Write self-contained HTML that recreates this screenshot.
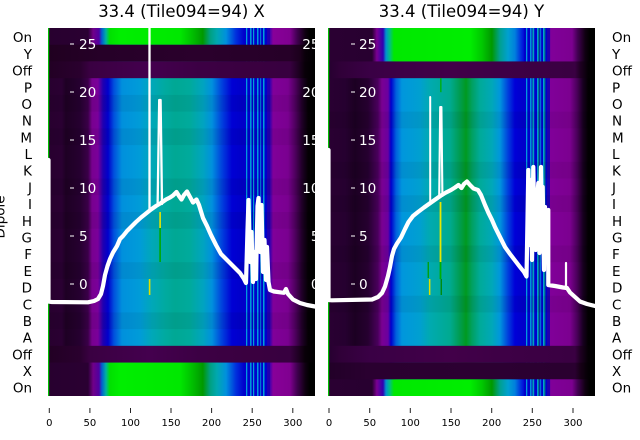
<!DOCTYPE html>
<html><head><meta charset="utf-8"><style>
html,body{margin:0;padding:0;background:#fff;}
svg{display:block;}
text{font-family:"DejaVu Sans","Liberation Sans",sans-serif;}
</style></head><body>
<svg width="640" height="440" viewBox="0 0 640 440" xmlns="http://www.w3.org/2000/svg">
<defs>
<linearGradient id="LA" gradientUnits="userSpaceOnUse" x1="48" y1="0" x2="315" y2="0">
<stop offset="0" stop-color="#28002f"/><stop offset=".052" stop-color="#2a0032"/><stop offset=".067" stop-color="#1e0024"/>
<stop offset=".12" stop-color="#260030"/><stop offset=".15" stop-color="#3a0048"/><stop offset=".165" stop-color="#780090"/>
<stop offset=".187" stop-color="#7a009a"/><stop offset=".206" stop-color="#2000b0"/><stop offset=".225" stop-color="#0000cc"/>
<stop offset=".247" stop-color="#0050dd"/><stop offset=".277" stop-color="#0090dd"/><stop offset=".345" stop-color="#009cd8"/>
<stop offset=".39" stop-color="#00a8b8"/><stop offset=".438" stop-color="#00aaa0"/><stop offset=".476" stop-color="#00a894"/>
<stop offset=".532" stop-color="#00aa9c"/><stop offset=".581" stop-color="#00a4c0"/><stop offset=".614" stop-color="#0090dd"/>
<stop offset=".652" stop-color="#0040dd"/><stop offset=".689" stop-color="#0000d4"/><stop offset=".734" stop-color="#0000c8"/>
<stop offset=".831" stop-color="#3000b0"/><stop offset=".843" stop-color="#800099"/><stop offset=".899" stop-color="#7a0090"/>
<stop offset=".925" stop-color="#500060"/><stop offset=".951" stop-color="#200028"/><stop offset=".974" stop-color="#050005"/>
<stop offset="1" stop-color="#000"/>
</linearGradient>
<linearGradient id="LO" gradientUnits="userSpaceOnUse" x1="48" y1="0" x2="315" y2="0">
<stop offset="0" stop-color="#28002f"/><stop offset=".15" stop-color="#2a0032"/><stop offset=".169" stop-color="#700088"/>
<stop offset=".191" stop-color="#5000a0"/><stop offset=".202" stop-color="#0060d0"/><stop offset=".217" stop-color="#00b0a0"/>
<stop offset=".232" stop-color="#00e000"/><stop offset=".27" stop-color="#00ee00"/><stop offset=".494" stop-color="#00e800"/>
<stop offset=".539" stop-color="#00c000"/><stop offset=".58" stop-color="#009800"/><stop offset=".607" stop-color="#00a080"/>
<stop offset=".633" stop-color="#00a8b0"/><stop offset=".667" stop-color="#0090dd"/><stop offset=".704" stop-color="#0030dd"/>
<stop offset=".734" stop-color="#0000cc"/><stop offset=".831" stop-color="#4000b0"/><stop offset=".843" stop-color="#880099"/>
<stop offset=".906" stop-color="#800090"/><stop offset=".933" stop-color="#400050"/><stop offset=".963" stop-color="#100012"/>
<stop offset=".981" stop-color="#000"/><stop offset="1" stop-color="#000"/>
</linearGradient>
<linearGradient id="LD" gradientUnits="userSpaceOnUse" x1="48" y1="0" x2="315" y2="0">
<stop offset="0" stop-color="#200020"/><stop offset=".2" stop-color="#260028"/><stop offset=".57" stop-color="#2a002c"/>
<stop offset=".906" stop-color="#260028"/><stop offset=".943" stop-color="#1c001c"/><stop offset=".963" stop-color="#0a000a"/>
<stop offset="1" stop-color="#000"/>
</linearGradient>
<linearGradient id="LF" gradientUnits="userSpaceOnUse" x1="48" y1="0" x2="315" y2="0">
<stop offset="0" stop-color="#220024"/><stop offset=".12" stop-color="#2a002e"/><stop offset=".157" stop-color="#3a0042"/>
<stop offset=".38" stop-color="#44004e"/><stop offset=".57" stop-color="#3c0044"/><stop offset=".757" stop-color="#3a0040"/>
<stop offset=".906" stop-color="#380040"/><stop offset=".936" stop-color="#200024"/><stop offset=".963" stop-color="#080008"/>
<stop offset="1" stop-color="#000"/>
</linearGradient>
<linearGradient id="RA" gradientUnits="userSpaceOnUse" x1="328" y1="0" x2="595" y2="0">
<stop offset="0" stop-color="#2a0032"/><stop offset=".064" stop-color="#260030"/><stop offset=".101" stop-color="#1c0022"/>
<stop offset=".15" stop-color="#260030"/><stop offset=".187" stop-color="#4a005c"/><stop offset=".202" stop-color="#7a0092"/>
<stop offset=".225" stop-color="#6a00a0"/><stop offset=".236" stop-color="#0000cc"/><stop offset=".255" stop-color="#0060dd"/>
<stop offset=".277" stop-color="#0096dd"/><stop offset=".345" stop-color="#00a0d0"/><stop offset=".382" stop-color="#00aab0"/>
<stop offset=".457" stop-color="#00aa90"/><stop offset=".494" stop-color="#009c50"/><stop offset=".517" stop-color="#009a20"/>
<stop offset=".539" stop-color="#00a060"/><stop offset=".569" stop-color="#00aa98"/><stop offset=".614" stop-color="#00a8b8"/>
<stop offset=".644" stop-color="#0096dd"/><stop offset=".674" stop-color="#0040dd"/><stop offset=".7" stop-color="#0000d8"/>
<stop offset=".738" stop-color="#0000c8"/><stop offset=".824" stop-color="#3000b0"/><stop offset=".831" stop-color="#800099"/>
<stop offset=".906" stop-color="#7c0090"/><stop offset=".933" stop-color="#4a005a"/><stop offset=".955" stop-color="#180020"/>
<stop offset=".974" stop-color="#030003"/><stop offset="1" stop-color="#000"/>
</linearGradient>
<linearGradient id="RO" gradientUnits="userSpaceOnUse" x1="328" y1="0" x2="595" y2="0">
<stop offset="0" stop-color="#2a0032"/><stop offset=".165" stop-color="#280030"/><stop offset=".183" stop-color="#7a0092"/>
<stop offset=".206" stop-color="#3000b0"/><stop offset=".217" stop-color="#0090d0"/><stop offset=".232" stop-color="#00c080"/>
<stop offset=".247" stop-color="#00e800"/><stop offset=".532" stop-color="#00ee00"/><stop offset=".577" stop-color="#00c800"/>
<stop offset=".614" stop-color="#009800"/><stop offset=".644" stop-color="#00a090"/><stop offset=".674" stop-color="#00a0d0"/>
<stop offset=".7" stop-color="#0080dd"/><stop offset=".727" stop-color="#0020dd"/><stop offset=".738" stop-color="#0000cc"/>
<stop offset=".824" stop-color="#3000b0"/><stop offset=".835" stop-color="#800099"/><stop offset=".914" stop-color="#7c0090"/>
<stop offset=".936" stop-color="#400050"/><stop offset=".963" stop-color="#100012"/><stop offset=".981" stop-color="#000"/>
<stop offset="1" stop-color="#000"/>
</linearGradient>
<linearGradient id="RF" gradientUnits="userSpaceOnUse" x1="328" y1="0" x2="595" y2="0">
<stop offset="0" stop-color="#260030"/><stop offset=".045" stop-color="#300038"/><stop offset=".157" stop-color="#3a0045"/>
<stop offset=".457" stop-color="#420049"/><stop offset=".644" stop-color="#3e0046"/><stop offset=".925" stop-color="#3a0042"/>
<stop offset=".944" stop-color="#200024"/><stop offset=".974" stop-color="#050005"/><stop offset="1" stop-color="#000"/>
</linearGradient>
<linearGradient id="RD" gradientUnits="userSpaceOnUse" x1="328" y1="0" x2="595" y2="0">
<stop offset="0" stop-color="#220028"/><stop offset=".15" stop-color="#2a0030"/><stop offset=".6" stop-color="#2c0032"/>
<stop offset=".925" stop-color="#2a0030"/><stop offset=".944" stop-color="#180018"/><stop offset=".974" stop-color="#040004"/>
<stop offset="1" stop-color="#000"/>
</linearGradient>
<g id="stripes">
<rect x="0" y="0" width="26" height="368" fill="#0000cc"/>
<rect x="2" y="0" width="1.3" height="368" fill="#0098dd"/>
<rect x="6" y="0" width="1.6" height="368" fill="#0090dd"/>
<rect x="9" y="0" width="1.2" height="368" fill="#00a0d0"/>
<rect x="13" y="0" width="1.5" height="368" fill="#0098dd"/>
<rect x="16" y="0" width="1.2" height="368" fill="#0070d8"/>
<rect x="19" y="0" width="1.5" height="368" fill="#00a0d8"/>
<rect x="23" y="0" width="3" height="368" fill="#2000b0"/>
</g>
</defs>

<rect width="640" height="440" fill="#fff"/>

<!-- LEFT PANEL -->
<rect x="48" y="28" width="267" height="368" fill="url(#LA)"/>
<rect x="48" y="28" width="267" height="16.73" fill="url(#LO)"/>
<rect x="48" y="362.55" width="267" height="33.45" fill="url(#LO)"/>
<use href="#stripes" x="244" y="28"/>
<rect x="48" y="44.73" width="267" height="16.72" fill="url(#LD)"/>
<rect x="48" y="61.45" width="267" height="16.73" fill="url(#LF)"/>
<rect x="48" y="345.82" width="267" height="16.73" fill="url(#LF)"/>
<g fill="#000" opacity="0.05">
<rect x="48" y="94.9" width="267" height="16.73"/><rect x="48" y="128.4" width="267" height="16.73"/>
<rect x="48" y="178.5" width="267" height="16.73"/><rect x="48" y="212" width="267" height="16.73"/>
<rect x="48" y="262.2" width="267" height="16.73"/><rect x="48" y="312.4" width="267" height="16.73"/>
</g>
<rect x="48" y="28" width="1.2" height="136" fill="#00c000"/>
<rect x="48" y="301" width="1.2" height="95" fill="#00c000"/>
<rect x="159.3" y="212" width="1.6" height="16" fill="#e8e800"/>
<rect x="159.3" y="228" width="1.6" height="34" fill="#00a800"/>
<rect x="148.8" y="279" width="1.6" height="16" fill="#e0e000"/>

<!-- RIGHT PANEL -->
<rect x="328" y="28" width="267" height="368" fill="url(#RA)"/>
<rect x="328" y="28" width="267" height="33.45" fill="url(#RO)"/>
<rect x="328" y="379.27" width="267" height="16.73" fill="url(#RO)"/>
<use href="#stripes" x="524" y="28"/>
<g opacity="0.6">
<rect x="532" y="28" width="1.5" height="368" fill="#00a0a0"/>
<rect x="538" y="28" width="1.5" height="368" fill="#00a060"/>
<rect x="544" y="28" width="1.5" height="368" fill="#00a070"/>
</g>
<rect x="328" y="61.45" width="267" height="16.73" fill="url(#RF)"/>
<rect x="328" y="345.82" width="267" height="16.73" fill="url(#RF)"/>
<rect x="328" y="362.55" width="267" height="16.72" fill="url(#RD)"/>
<g fill="#000" opacity="0.05">
<rect x="328" y="111.6" width="267" height="16.73"/><rect x="328" y="161.8" width="267" height="16.73"/>
<rect x="328" y="195.3" width="267" height="16.73"/><rect x="328" y="245.5" width="267" height="16.73"/>
<rect x="328" y="295.7" width="267" height="16.73"/>
</g>
<rect x="328" y="28" width="1.2" height="122" fill="#00c000"/>
<rect x="328" y="300" width="1.2" height="96" fill="#00c000"/>
<rect x="440.2" y="78.2" width="1.3" height="14" fill="#00b000"/>
<rect x="439.6" y="202" width="1.8" height="60" fill="#e8e800"/>
<rect x="439.6" y="262" width="1.8" height="17" fill="#00b000"/>
<rect x="440.6" y="279" width="1.3" height="16" fill="#008800"/>
<rect x="427.6" y="262" width="1.3" height="16" fill="#00a000"/>
<rect x="428.9" y="279" width="1.5" height="16" fill="#e0e000"/>

<!-- WHITE CURVES -->
<g fill="none" stroke="#fff" stroke-linejoin="round" stroke-linecap="round">
<polyline stroke-width="4.2" points="48.5,160 48.5,301.5 52,302 88,302.3 94,301 98,299 101,294 103,286 105,275 107.5,266 110,259 113,252.5 117,246 120,239 123,236 127,231 131,227 136,222 141,217.5 146,213.5 151,209.5 156,206 161,203 166,199.5 170,197.5 173,195.5 176.5,192 179,196 181.5,199.5 184,195 187,191.5 190,197 193,202.5 196.5,199.5 199,205 203,218 207,226 211,235 216,245 221,254 226,259 231,264 236,269 240,273 244,279 246,283 247.5,230 248.5,200 250,262 251.5,232 253,282 254.5,252 256,279 257.5,206 258.5,198 260,252 261.5,205 263,272 264.5,240 266,280 267,247 268.5,282 270,290 274,291.5 280,292.3 284,292.8 286,289 288,294 293,299.5 300,303 307,305 315,306.5"/>
<line x1="149.5" y1="28" x2="149.5" y2="212" stroke-width="2.3" stroke-linecap="butt"/>
<polyline stroke-width="2.3" points="157.6,206 159.2,100 160.6,100 162,204"/>
<polyline stroke-width="4.2" points="328.5,150 328.5,300 332,300.3 372,299.5 378,297 382,293 385,286.5 388,276 390,267 392,256 394,249 397,243.5 401,237.5 405,229 408.5,222 413,216 418,212 424,207.5 431,202.5 436,199 441,195.5 446,192.5 451,190 455,187.5 458.5,185 461.5,188 464,184 467,181.5 470,185 473.5,188.5 478,190 481,195 485,205 488.5,213 492,220 495,227 500,237 505,247 510,254 515,260.5 520,267 524,272 526.5,276.5 527.5,220 528.3,170 529.5,245 530.7,180 532,260 533.3,167 534.5,230 535.5,250 537,200 538.3,183 539.5,253 541,167 542,240 542.7,187 544,270 545,207 546.5,258 548.3,210 548.3,285 555,286 563,287.5 567,288 570,292.5 575,297 580,301.5 587,304 595,306"/>
<line x1="566" y1="263" x2="566" y2="289" stroke-width="2.2"/>
<line x1="430.2" y1="97" x2="430.2" y2="203" stroke-width="2"/>
<polyline stroke-width="2.1" points="439.2,197 440.2,107 441.4,107 442.4,196"/>
</g>

<!-- inner white tick labels -->
<g fill="#fff" font-size="13.6">
<g stroke="#fff" stroke-width="1">
<line x1="70" y1="44" x2="74" y2="44"/><line x1="70" y1="92" x2="74" y2="92"/><line x1="70" y1="140" x2="74" y2="140"/>
<line x1="70" y1="188" x2="74" y2="188"/><line x1="70" y1="236" x2="74" y2="236"/><line x1="70" y1="284" x2="74" y2="284"/>
<line x1="351" y1="44" x2="355" y2="44"/><line x1="351" y1="92" x2="355" y2="92"/><line x1="351" y1="140" x2="355" y2="140"/>
<line x1="351" y1="188" x2="355" y2="188"/><line x1="351" y1="236" x2="355" y2="236"/><line x1="351" y1="284" x2="355" y2="284"/>
</g>
<text x="79" y="49">25</text><text x="79" y="97">20</text><text x="79" y="145">15</text>
<text x="79" y="193">10</text><text x="79" y="241">5</text><text x="79" y="289">0</text>
<text x="359" y="49">25</text><text x="359" y="97">20</text><text x="359" y="145">15</text>
<text x="359" y="193">10</text><text x="359" y="241">5</text><text x="359" y="289">0</text>
<g text-anchor="end">
<text x="319.5" y="49">25</text><text x="319.5" y="97">20</text><text x="319.5" y="145">15</text>
<text x="319.5" y="193">10</text><text x="319.5" y="241">5</text><text x="319.5" y="289">0</text>
</g>
</g>
<rect x="315" y="20" width="13" height="380" fill="#fff"/>

<!-- titles -->
<text x="181.5" y="17" font-size="16.5" text-anchor="middle" fill="#000">33.4 (Tile094=94) X</text>
<text x="461.5" y="17" font-size="16.5" text-anchor="middle" fill="#000">33.4 (Tile094=94) Y</text>

<!-- row labels -->
<g font-size="13.5" fill="#000">
<g text-anchor="end">
<text x="32" y="42.2">On</text><text x="32" y="58.9">Y</text><text x="32" y="75.6">Off</text>
<text x="32" y="92.3">P</text><text x="32" y="109">O</text><text x="32" y="125.7">N</text>
<text x="32" y="142.3">M</text><text x="32" y="159">L</text><text x="32" y="175.7">K</text>
<text x="32" y="192.4">J</text><text x="32" y="209.1">I</text><text x="32" y="225.8">H</text>
<text x="32" y="242.5">G</text><text x="32" y="259.2">F</text><text x="32" y="275.9">E</text>
<text x="32" y="292.6">D</text><text x="32" y="309.3">C</text><text x="32" y="325.9">B</text>
<text x="32" y="342.6">A</text><text x="32" y="359.3">Off</text><text x="32" y="376">X</text>
<text x="32" y="392.7">On</text>
</g>
<g text-anchor="start">
<text x="612" y="42.2">On</text><text x="612" y="58.9">Y</text><text x="612" y="75.6">Off</text>
<text x="612" y="92.3">P</text><text x="612" y="109">O</text><text x="612" y="125.7">N</text>
<text x="612" y="142.3">M</text><text x="612" y="159">L</text><text x="612" y="175.7">K</text>
<text x="612" y="192.4">J</text><text x="612" y="209.1">I</text><text x="612" y="225.8">H</text>
<text x="612" y="242.5">G</text><text x="612" y="259.2">F</text><text x="612" y="275.9">E</text>
<text x="612" y="292.6">D</text><text x="612" y="309.3">C</text><text x="612" y="325.9">B</text>
<text x="612" y="342.6">A</text><text x="612" y="359.3">Off</text><text x="612" y="376">X</text>
<text x="612" y="392.7">On</text>
</g>
<text transform="translate(4.5,217) rotate(-90)" text-anchor="middle">Dipole</text>
</g>

<!-- x ticks -->
<g stroke="#222" stroke-width="1">
<line x1="49.3" y1="408" x2="49.3" y2="413"/><line x1="89.9" y1="408" x2="89.9" y2="413"/><line x1="130.5" y1="408" x2="130.5" y2="413"/>
<line x1="171" y1="408" x2="171" y2="413"/><line x1="211.6" y1="408" x2="211.6" y2="413"/><line x1="252.2" y1="408" x2="252.2" y2="413"/>
<line x1="292.8" y1="408" x2="292.8" y2="413"/>
<line x1="329" y1="408" x2="329" y2="413"/><line x1="369.7" y1="408" x2="369.7" y2="413"/><line x1="410.3" y1="408" x2="410.3" y2="413"/>
<line x1="451" y1="408" x2="451" y2="413"/><line x1="491.7" y1="408" x2="491.7" y2="413"/><line x1="532.3" y1="408" x2="532.3" y2="413"/>
<line x1="573" y1="408" x2="573" y2="413"/>
</g>
<g font-size="10" fill="#000" text-anchor="middle">
<text x="49.3" y="426">0</text><text x="89.9" y="426">50</text><text x="130.5" y="426">100</text>
<text x="171" y="426">150</text><text x="211.6" y="426">200</text><text x="252.2" y="426">250</text>
<text x="292.8" y="426">300</text>
<text x="329" y="426">0</text><text x="369.7" y="426">50</text><text x="410.3" y="426">100</text>
<text x="451" y="426">150</text><text x="491.7" y="426">200</text><text x="532.3" y="426">250</text>
<text x="573" y="426">300</text>
</g>
</svg>
</body></html>
